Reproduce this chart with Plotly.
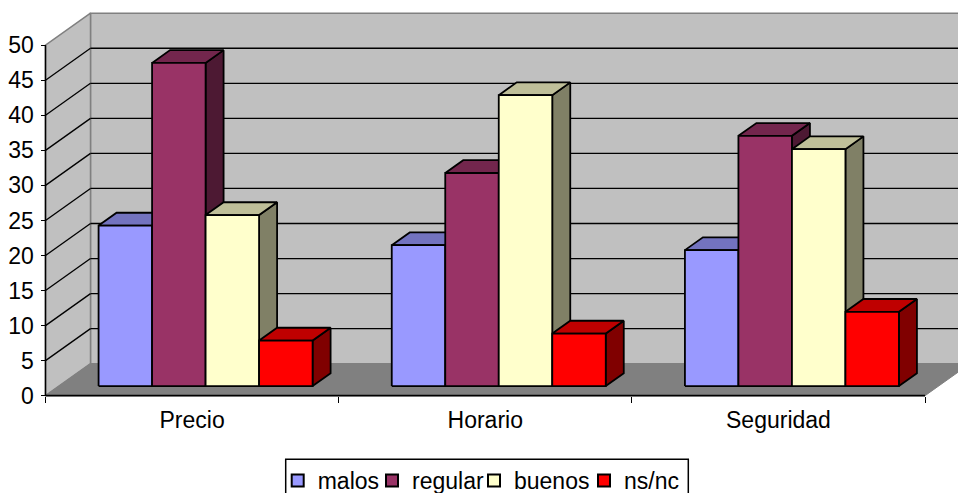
import plotly.graph_objects as go

categories = ["Precio", "Horario", "Seguridad"]
series_names = ["malos", "regular", "buenos", "ns/nc"]
malos = [22.9, 20.1, 19.4]
regular = [46.1, 30.4, 35.7]
buenos = [24.4, 41.5, 33.8]
nsnc = [6.5, 7.5, 10.6]
y_ticks = [0, 5, 10, 15, 20, 25, 30, 35, 40, 45, 50]

front_colors = ["#9999FF", "#993366", "#FFFFCC", "#FF0000"]
top_colors = ["#7373BF", "#73264D", "#BFBF99", "#BF0000"]
side_colors = ["#4D4D80", "#4D1933", "#808066", "#800000"]
series_values = [malos, regular, buenos, nsnc]

W, H = 958, 493
X0, Y0 = 45.5, 395.7        # pixel origin of the value/category axes
PX_CAT = 293.17             # pixels per category
PX_VAL = 7.01               # pixels per value unit
DEPTH_X, DEPTH_Y = 45.0, 32.0

GAP = 0.135                 # side gap inside a category
BAR_W = 0.1825
BAR_D0, BAR_D1 = 0.30, 0.70 # front/back of a bar within the depth

LEGEND_SWATCH_PX = [297.7, 392, 494, 604]


def proj(c, v, d):
    """Oblique projection: category position, value, depth -> axis coords."""
    return c + d * DEPTH_X / PX_CAT, v + d * DEPTH_Y / PX_VAL


def poly(points, fill, line="black", width=1.8):
    xs, ys = zip(*[proj(*p) for p in points + [points[0]]])
    return go.Scatter(x=xs, y=ys, mode="lines", fill="toself", fillcolor=fill,
                      line=dict(color=line, width=width), hoverinfo="skip",
                      showlegend=False)


def seg(p, q, color="black", width=1.3):
    xs, ys = zip(proj(*p), proj(*q))
    return go.Scatter(x=xs, y=ys, mode="lines", line=dict(color=color, width=width),
                      hoverinfo="skip", showlegend=False)


fig = go.Figure()
n = len(categories)
vmax = y_ticks[-1]

# walls and floor
fig.add_trace(poly([(0, 0, 1), (n, 0, 1), (n, vmax, 1), (0, vmax, 1)], "#C0C0C0", "#808080", 1.5))
fig.add_trace(poly([(0, 0, 0), (0, 0, 1), (0, vmax, 1), (0, vmax, 0)], "#C0C0C0", "#808080", 1.5))
fig.add_trace(poly([(0, 0, 0), (n, 0, 0), (n, 0, 1), (0, 0, 1)], "#808080", "#808080", 1))

# gridlines
for t in y_ticks[1:-1]:
    fig.add_trace(seg((0, t, 0), (0, t, 1)))
    fig.add_trace(seg((0, t, 1), (n, t, 1)))

# bars
for i in range(n):
    for s, values in enumerate(series_values):
        v = values[i]
        a = i + GAP + s * BAR_W
        b = a + BAR_W
        fig.add_trace(poly([(b, 0, BAR_D0), (b, 0, BAR_D1), (b, v, BAR_D1), (b, v, BAR_D0)], side_colors[s]))
        fig.add_trace(poly([(a, v, BAR_D0), (b, v, BAR_D0), (b, v, BAR_D1), (a, v, BAR_D1)], top_colors[s]))
        fig.add_trace(poly([(a, 0, BAR_D0), (b, 0, BAR_D0), (b, v, BAR_D0), (a, v, BAR_D0)], front_colors[s]))

# axis lines
fig.add_trace(seg((0, 0, 0), (0, vmax, 0), "black", 1.5))
fig.add_trace(seg((0, 0, 0), (n, 0, 0), "black", 1.8))

font = dict(family="Liberation Sans, Arial, sans-serif", size=23, color="black")

# legend entries: one small legend per series so the entries sit tightly together
legends = {}
for s, name in enumerate(series_names):
    key = "legend" if s == 0 else f"legend{s + 1}"
    fig.add_trace(go.Scatter(x=[None], y=[None], mode="markers", name=name, legend=key,
                             marker=dict(symbol="square", size=12, color=front_colors[s],
                                         line=dict(color="black", width=1.5))))
    legends[key] = dict(x=(LEGEND_SWATCH_PX[s] - 20) / W, xanchor="left",
                        y=(H - 459) / H, yanchor="top", bgcolor="rgba(0,0,0,0)",
                        borderwidth=0, font=font, itemsizing="constant",
                        itemclick=False, itemdoubleclick=False)

fig.update_layout(
    width=W, height=H, autosize=False,
    margin=dict(l=0, r=0, t=0, b=0, autoexpand=False),
    paper_bgcolor="white", plot_bgcolor="white", font=font,
    showlegend=True,
    shapes=[dict(type="rect", xref="paper", yref="paper", layer="below",
                 x0=285.7 / W, x1=688.3 / W, y0=-0.1, y1=(H - 459.3) / H,
                 line=dict(color="black", width=1.5), fillcolor="white")],
    xaxis=dict(range=[-X0 / PX_CAT, (W - X0) / PX_CAT], domain=[0, 1], anchor="free",
               position=(H - Y0) / H, showgrid=False, zeroline=False, showline=False,
               automargin=False,
               tickmode="array", tickvals=[i + 0.5 for i in range(n)], ticktext=categories,
               ticks="", ticklabelstandoff=8, tickfont=font,
               minor=dict(dtick=1, tick0=0, ticks="outside", ticklen=6, tickwidth=1, tickcolor="black",
                          showgrid=False)),
    yaxis=dict(range=[(Y0 - H) / PX_VAL, Y0 / PX_VAL], domain=[0, 1], anchor="free",
               position=X0 / W, showgrid=False, zeroline=False, showline=False,
               automargin=False,
               tickmode="array", tickvals=y_ticks, ticks="outside", ticklen=5, tickwidth=1,
               tickcolor="black", tickfont=font, ticklabelstandoff=2),
    **legends,
)
fig.write_html("out.html", config={"displayModeBar": False},
               post_script="document.body.style.margin='0';")
